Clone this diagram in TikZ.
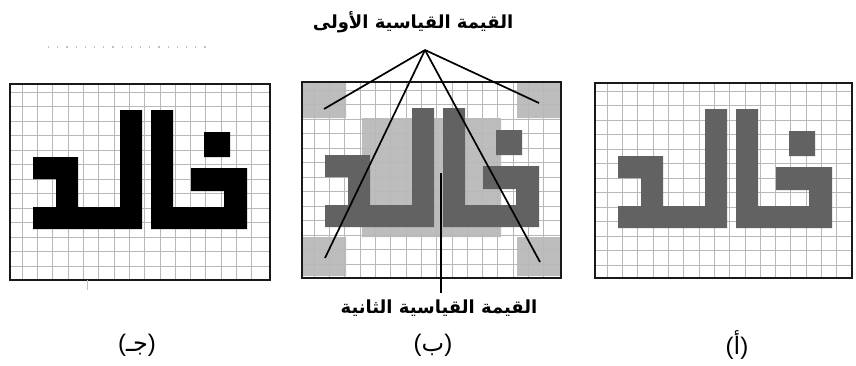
\documentclass[tikz,border=0pt]{standalone}
\usepackage{fontspec}
\newfontfamily\arabicfont[Script=Arabic]{DejaVu Sans}
\newfontfamily\latinsans{Liberation Sans}
\TeXXeTstate=1
\definecolor{glyphgray}{HTML}{626262}
\definecolor{lightfill}{HTML}{BDBDBD}
\definecolor{gridgray}{HTML}{B8B8B8}
\definecolor{faintgray}{HTML}{C0C0C0}
\tikzset{
  gridline/.style={draw=gridgray, line width=0.9pt},
  framebox/.style={draw=black!90, line width=1.9pt},
  pointer/.style={draw=black, line width=1.7pt},
  arlabel/.style={font=\arabicfont\bfseries\fontsize{18}{21}\selectfont, inner sep=0pt},
  panlabel/.style={font=\fontsize{24}{28}\selectfont, inner sep=0pt},
  khaled/.pic={
    \path[pic actions]
      (24,74) rectangle (69,96)
      (47,74) rectangle (69,124)
      (24,124) rectangle (133,146)
      (111,27) rectangle (133,146)
      (142,27) rectangle (164,146)
      (142,124) rectangle (238,146)
      (182,85) rectangle (238,108)
      (215,85) rectangle (238,146)
      (195,49) rectangle (221,74);
  }
}
\newcommand\panelgrid[4]{%
  \begin{scope}[shift={(#1,#2)}]
    \foreach \k in {0,...,15}
      \draw[gridline] ({13.3+15.3*\k},0) -- ({13.3+15.3*\k},#4);
    \foreach \k in {0,...,12}
      \draw[gridline] (0,{9.3+14.5*\k}) -- (#3,{9.3+14.5*\k});
  \end{scope}}
\begin{document}
\begin{tikzpicture}[x=1pt,y=-1pt]
  \useasboundingbox[fill=white] (0,0) rectangle (856,365);

  % ---------- panel (a), right ----------
  \panelgrid{594}{82}{257}{195}
  \pic[fill=glyphgray] at (594,82) {khaled};
  \node[framebox, minimum width=257pt, minimum height=195pt, anchor=north west, inner sep=0pt] (pa) at (594,82) {};

  % ---------- panel (b), middle ----------
  \begin{scope}[shift={(301,81)}]
    \fill[lightfill] (0,0) rectangle (45,37)
                     (216,0) rectangle (259,37)
                     (0,156) rectangle (45,195)
                     (216,156) rectangle (259,195)
                     (61,37) rectangle (200,156);
  \end{scope}
  \panelgrid{301}{81}{259}{196}
  \pic[fill=glyphgray] at (301,81) {khaled};
  \node[framebox, minimum width=259pt, minimum height=196pt, anchor=north west, inner sep=0pt] (pb) at (301,81) {};

  % ---------- panel (c), left ----------
  \panelgrid{9}{83}{260}{196}
  \pic[fill=black] at (9,83) {khaled};
  \node[framebox, minimum width=260pt, minimum height=196pt, anchor=north west, inner sep=0pt] (pc) at (9,83) {};

  % faint marks
  \draw[faintgray, line width=1.2pt, dash pattern=on 1.2pt off 8pt] (48,47) -- (210,47);
  \draw[faintgray, line width=0.8pt] (87,280) -- (87,290);

  % ---------- texts ----------
  \node[arlabel] (t1) at (413,22) {\beginR القيمة القياسية الأولى\endR};
  \node[arlabel] (t2) at (439,308) {\beginR القيمة القياسية الثانية\endR};

  \node[panlabel] (la) at (737,345) {{\latinsans(}{\arabicfont أ}{\latinsans)}};
  \node[panlabel] (lb) at (433,345) {{\latinsans(}{\arabicfont ب}{\latinsans)}};
  \node[panlabel] (lc) at (137,345) {{\latinsans(}{\arabicfont جـ}{\latinsans)}};

  % ---------- pointers ----------
  \coordinate (apex) at (425,50);
  \coordinate (tl) at (324,109);
  \coordinate (tr) at (539,103);
  \coordinate (bl) at (325,258);
  \coordinate (br) at (540,262);
  \coordinate (mid) at (441,173);
  \coordinate (midend) at (441,293);
  \draw[pointer] (apex) -- (tl);
  \draw[pointer] (apex) -- (tr);
  \draw[pointer] (apex) -- (bl);
  \draw[pointer] (apex) -- (br);
  \draw[pointer] (mid) -- (midend);
\end{tikzpicture}
\end{document}
